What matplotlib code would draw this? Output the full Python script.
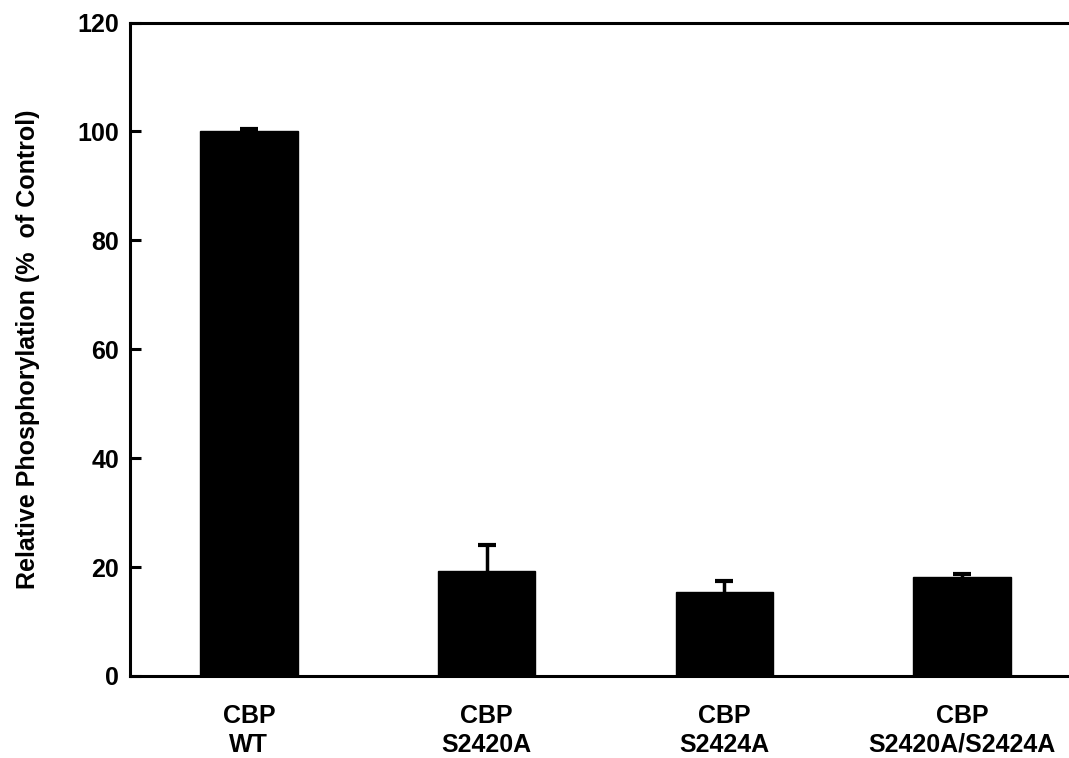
import numpy as np
import matplotlib
matplotlib.use("Agg")
import matplotlib.pyplot as plt

# data
labels = ["CBP\nWT", "CBP\nS2420A", "CBP\nS2424A", "CBP\nS2420A/S2424A"]
values = [100.0, 19.2, 15.5, 18.1]
errors = [0.5, 4.9, 2.0, 0.7]
yticks = [0, 20, 40, 60, 80, 100, 120]

plt.rcParams["font.family"] = ["Liberation Sans", "DejaVu Sans"]
plt.rcParams["font.weight"] = "bold"

fig = plt.figure(figsize=(10.69, 7.58), dpi=100)
ax = fig.add_axes([0.1216, 0.1082, 0.8784, 0.862])

x = np.arange(len(labels))
ax.bar(x, values, width=0.41, color="black", edgecolor="black", zorder=2)
eb = ax.errorbar(x, values, yerr=[np.zeros(len(errors)), errors], fmt="none",
                 ecolor="black", elinewidth=2.5, capsize=6.5, capthick=3,
                 zorder=3)
# only the upper cap is drawn in the original
eb[1][0].set_visible(False)

ax.set_xlim(-0.5, 3.45)
ax.set_ylim(0, 120)
ax.set_yticks(yticks)
ax.set_xticks(x)
ax.set_xticklabels(labels, fontsize=18, fontweight="bold", linespacing=1.25)
ax.tick_params(axis="x", length=0, pad=20)
ax.tick_params(axis="y", direction="in", length=8, width=2.2, labelsize=18,
               pad=8)
for lab in ax.get_yticklabels():
    lab.set_fontweight("bold")

for side in ["left", "bottom", "top"]:
    ax.spines[side].set_linewidth(2.2)
ax.spines["right"].set_visible(False)

ax.set_ylabel("Relative Phosphorylation (%  of Control)", fontsize=18,
              fontweight="bold", labelpad=27)

fig.savefig("out.png", dpi=100)
